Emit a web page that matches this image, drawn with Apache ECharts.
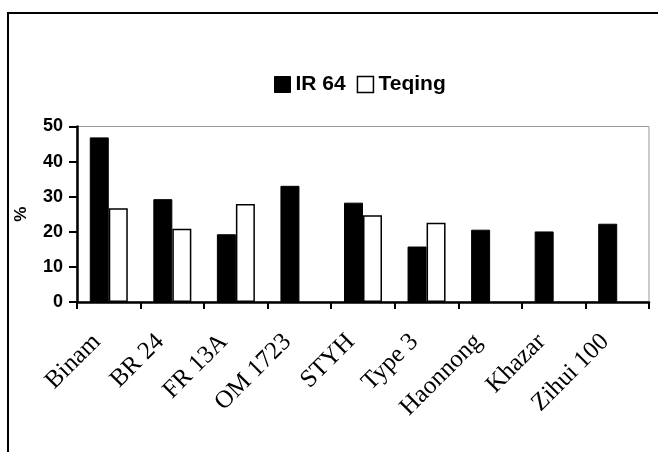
<!DOCTYPE html>
<html>
<head>
<meta charset="utf-8">
<script src="https://cdn.jsdelivr.net/npm/echarts@6/dist/echarts.min.js"></script>
<style>
html,body{margin:0;padding:0;background:#fff;}
#frame{position:absolute;left:7px;top:12px;width:660px;height:450px;border-top:2px solid #000;border-left:2px solid #000;box-sizing:border-box;}
#chart{position:absolute;left:0;top:0;width:658px;height:452px;}
</style>
</head>
<body>
<div id="frame"></div>
<div id="chart"></div>
<script>
const categories = ['Binam', 'BR 24', 'FR 13A', 'OM 1723', 'STYH', 'Type 3', 'Haonnong', 'Khazar', 'Zihui 100'];
const ir64 = [46.9, 29.3, 19.3, 33.1, 28.3, 15.8, 20.6, 20.1, 22.3];
const teqing = [26.7, 20.9, 27.9, null, 24.7, 22.6, null, null, null];
const yTicks = { min: 0, max: 50, interval: 10 };

const chart = echarts.init(document.getElementById('chart'), null, { renderer: 'canvas' });
chart.setOption({
  backgroundColor: 'transparent',
  animation: false,
  legend: {
    left: 269, top: 69, icon: 'rect',
    itemWidth: 16, itemHeight: 16, itemGap: 11,
    textStyle: { fontFamily: 'Liberation Sans, Arial', fontWeight: 'bold', fontSize: 21, color: '#000' },
    data: [
      { name: 'IR 64', itemStyle: { color: '#000', borderColor: '#000', borderWidth: 1 } },
      { name: 'Teqing', itemStyle: { color: '#fff', borderColor: '#000', borderWidth: 1.5 } }
    ]
  },
  grid: { left: 77, right: 9, top: 126.5, bottom: 150, show: true, borderColor: '#999', borderWidth: 1, backgroundColor: 'transparent' },
  xAxis: {
    type: 'category', data: categories,
    axisLine: { lineStyle: { color: '#000', width: 2.5 } },
    axisTick: { show: true, length: 7, lineStyle: { color: '#000', width: 2 } },
    axisLabel: { rotate: 45, interval: 0, margin: 24, padding: [0, 17, 0, 0], fontFamily: 'Liberation Serif, Times New Roman', fontSize: 25, color: '#000' }
  },
  yAxis: {
    type: 'value', min: yTicks.min, max: yTicks.max, interval: yTicks.interval,
    name: '%', nameLocation: 'middle', nameGap: 47, nameRotate: 90,
    nameTextStyle: { fontFamily: 'Liberation Sans, Arial', fontWeight: 'bold', fontSize: 17, color: '#000' },
    axisLine: { show: true, lineStyle: { color: '#000', width: 2.5 } },
    axisTick: { show: true, length: 8, lineStyle: { color: '#000', width: 2 } },
    splitLine: { show: false },
    axisLabel: { margin: 14, fontFamily: 'Liberation Sans, Arial', fontWeight: 'bold', fontSize: 18, color: '#000' }
  },
  series: [
    { name: 'IR 64', type: 'bar', data: ir64, barWidth: 19, barGap: '0%',
      itemStyle: { color: '#000', borderColor: '#000', borderWidth: 1 } },
    { name: 'Teqing', type: 'bar', data: teqing, barWidth: 19,
      itemStyle: { color: '#fff', borderColor: '#000', borderWidth: 1.5 } }
  ]
});
</script>
</body>
</html>
